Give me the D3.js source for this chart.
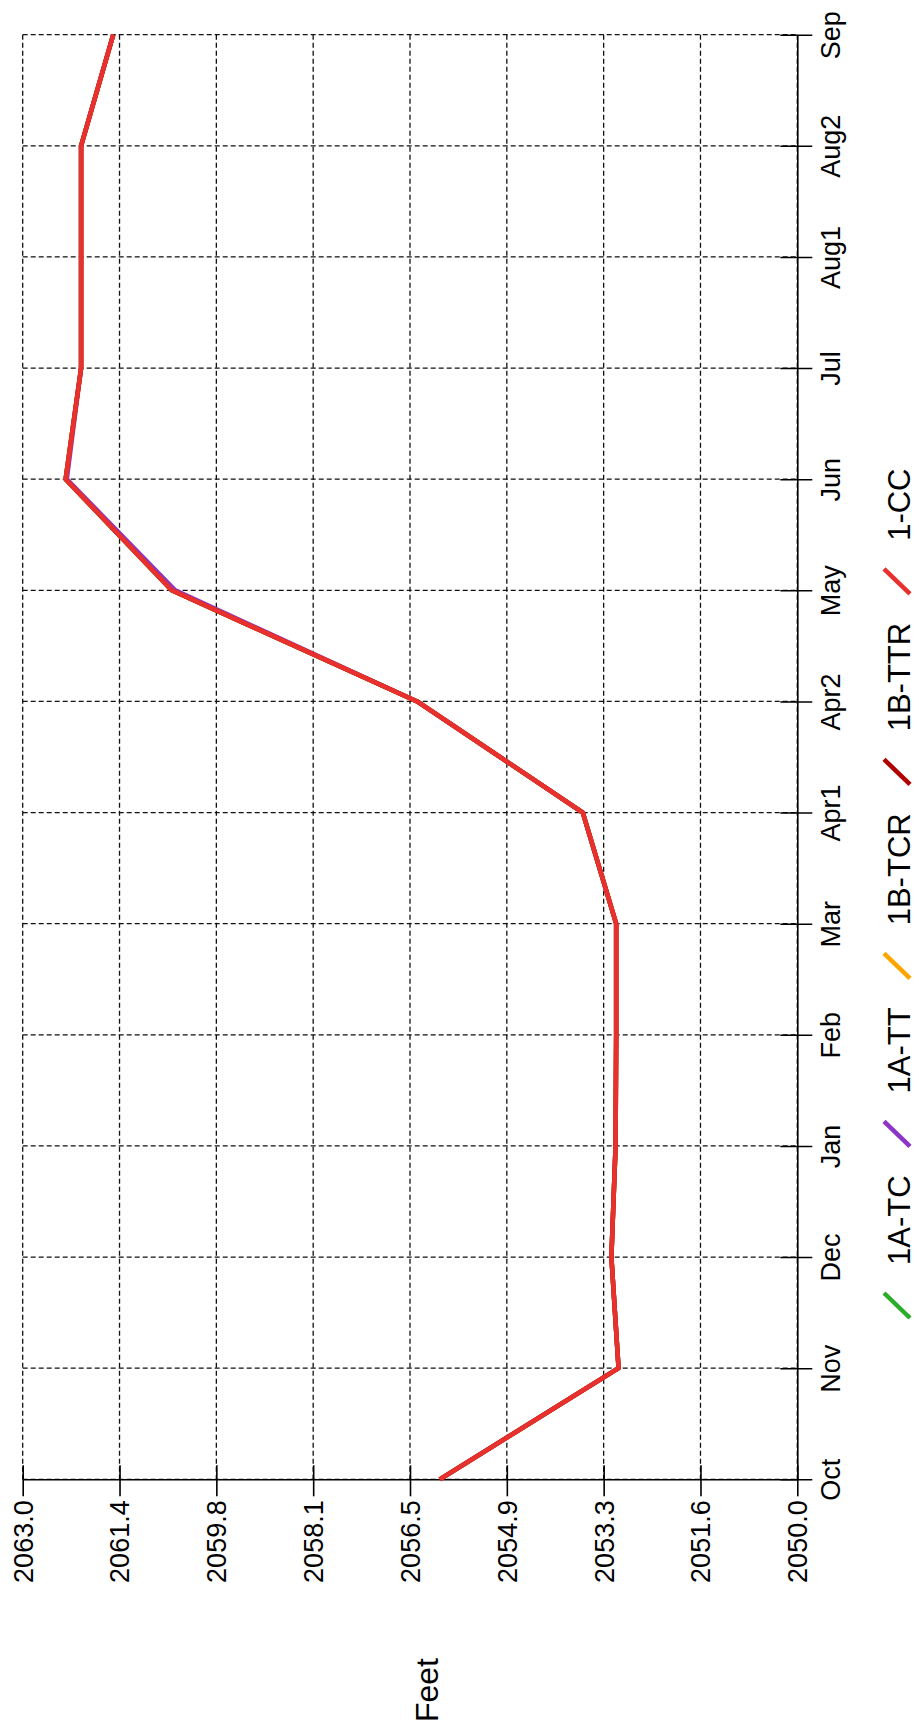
<!DOCTYPE html>
<html>
<head>
<meta charset="utf-8">
<script src="https://cdn.jsdelivr.net/npm/d3@7"></script>
<style>
  html, body { margin: 0; padding: 0; background: #fff; }
  svg { display: block; font-family: "Liberation Sans", Arial, sans-serif; }
</style>
</head>
<body>
<svg id="chart" width="919" height="1735"></svg>
<script>
// ---- data ----
const months = ["Oct","Nov","Dec","Jan","Feb","Mar","Apr1","Apr2","May","Jun","Jul","Aug1","Aug2","Sep"];
const valueTicks = [2063, 2061.375, 2059.75, 2058.125, 2056.5, 2054.875, 2053.25, 2051.625, 2050];
const valueTickLabels = ["2063.0","2061.4","2059.8","2058.1","2056.5","2054.9","2053.3","2051.6","2050.0"];
const seriesNames = ["1A-TC","1A-TT","1B-TCR","1B-TTR","1-CC"];
const seriesColors = ["#2aae2a","#8e35c8","#ffa500","#b00000","#e8312f"];
const s1A_TC  = [2056.00,2053.00,2053.12,2053.05,2053.04,2053.04,2053.60,2056.38,2060.50,2062.28,2062.02,2062.02,2062.02,2061.48];
const s1A_TT  = [2056.00,2053.00,2053.12,2053.05,2053.04,2053.04,2053.60,2056.38,2060.44,2062.26,2062.02,2062.02,2062.02,2061.48];
const s1B_TCR = [2056.00,2053.00,2053.12,2053.05,2053.04,2053.04,2053.60,2056.38,2060.50,2062.28,2062.02,2062.02,2062.02,2061.48];
const s1B_TTR = [2056.00,2053.00,2053.12,2053.05,2053.04,2053.04,2053.60,2056.38,2060.50,2062.28,2062.02,2062.02,2062.02,2061.48];
const s1_CC   = [2056.00,2053.00,2053.12,2053.05,2053.04,2053.04,2053.60,2056.38,2060.50,2062.28,2062.02,2062.02,2062.02,2061.48];
const seriesValues = [s1A_TC, s1A_TT, s1B_TCR, s1B_TTR, s1_CC];
const axisTitle = "Feet";

// ---- layout ----
const L = 22.7, R = 797.3, T = 34.7, B = 1479.3;
const svg = d3.select("#chart");

const x = d3.scaleLinear().domain([2063, 2050]).range([L, R]);
const y = d3.scalePoint().domain(months).range([B, T]);

// gridlines
const grid = svg.append("g").attr("stroke", "#111").attr("stroke-width", 1.3).attr("stroke-dasharray", "5,3").attr("fill", "none");
grid.selectAll("line.v").data(valueTicks).join("line")
  .attr("x1", d => x(d)).attr("x2", d => x(d))
  .attr("y1", T).attr("y2", B);
grid.selectAll("line.h").data(months).join("line")
  .attr("y1", d => y(d)).attr("y2", d => y(d))
  .attr("x1", L).attr("x2", R);

const fontSize = 27;

// right (month) axis
const ax = svg.append("g").attr("transform", `translate(${R},0)`)
  .call(d3.axisRight(y).tickSize(15).tickSizeOuter(0));
ax.select(".domain").attr("stroke", "#000").attr("stroke-width", 1.6);
ax.selectAll(".tick line").attr("x1", -17).attr("stroke", "#000").attr("stroke-width", 1.6);
ax.selectAll(".tick text")
  .attr("x", 0).attr("dy", 0).attr("y", 0)
  .attr("transform", "translate(43,0) rotate(-90)")
  .attr("text-anchor", "middle")
  .attr("font-size", fontSize).attr("font-family", "Liberation Sans, Arial, sans-serif")
  .attr("fill", "#000");

// bottom (value) axis
const bx = svg.append("g").attr("transform", `translate(0,${B})`)
  .call(d3.axisBottom(x).tickValues(valueTicks).tickFormat((d, i) => valueTickLabels[i]).tickSize(17).tickSizeOuter(0));
bx.select(".domain").attr("stroke", "#000").attr("stroke-width", 1.6);
bx.selectAll(".tick line").attr("y1", -14).attr("stroke", "#000").attr("stroke-width", 1.6);
bx.selectAll(".tick text")
  .attr("x", 0).attr("y", 0).attr("dy", "0.35em")
  .attr("transform", "translate(0,21) rotate(-90)")
  .attr("text-anchor", "end")
  .attr("font-size", fontSize).attr("font-family", "Liberation Sans, Arial, sans-serif")
  .attr("fill", "#000");

// axis title
svg.append("text")
  .attr("transform", "translate(438,1690) rotate(-90)")
  .attr("text-anchor", "middle")
  .attr("font-size", 32)
  .attr("fill", "#000")
  .text(axisTitle);

// lines
const line = d3.line().x(d => x(d.v)).y(d => y(d.m));
seriesValues.forEach((vals, i) => {
  svg.append("path")
    .datum(vals.map((v, j) => ({ m: months[j], v })))
    .attr("fill", "none")
    .attr("stroke", seriesColors[i])
    .attr("stroke-width", 4.5)
    .attr("stroke-linejoin", "round")
    .attr("d", line);
});

// legend (rotated, reading bottom-to-top)
const lg = svg.append("g").attr("transform", "translate(910,1318) rotate(-90)");
let pos = 0;
seriesNames.forEach((name, i) => {
  const it = lg.append("g").attr("transform", `translate(${pos},0)`);
  it.append("line")
    .attr("x1", 0).attr("y1", 0).attr("x2", 25).attr("y2", -26)
    .attr("stroke", seriesColors[i]).attr("stroke-width", 4.5);
  const t = it.append("text")
    .attr("x", 53).attr("y", 0)
    .attr("font-size", 31).attr("fill", "#000")
    .text(name);
  const w = t.node().getComputedTextLength();
  pos += 53 + w + 29;
});
</script>
</body>
</html>
